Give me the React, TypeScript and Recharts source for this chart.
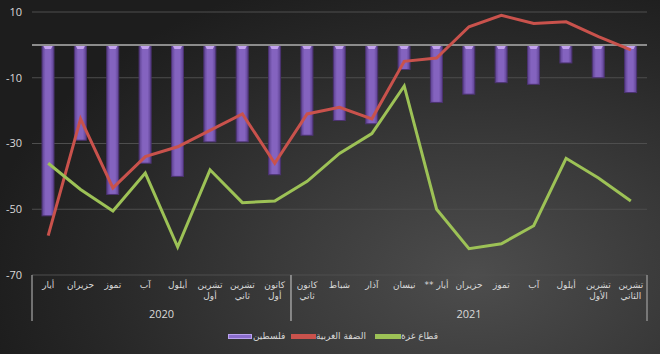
import React from 'react';
import {
  ComposedChart,
  Bar,
  Line,
  XAxis,
  YAxis,
  CartesianGrid,
  ReferenceLine,
  ReferenceArea,
} from 'recharts';

// ---------- data ----------
const monthLabels = [
  'أيار', 'حزيران', 'تموز', 'آب', 'أيلول', 'تشرين\nأول', 'تشرين\nثاني', 'كانون\nأول',
  'كانون\nثاني', 'شباط', 'آذار', 'نيسان', 'أيار **', 'حزيران', 'تموز', 'آب', 'أيلول', 'تشرين\nالأول', 'تشرين\nالثاني',
];
const years = [
  '2020', '2020', '2020', '2020', '2020', '2020', '2020', '2020',
  '2021', '2021', '2021', '2021', '2021', '2021', '2021', '2021', '2021', '2021', '2021',
];
const palestine = [-52, -29, -45.5, -36, -40, -29.5, -29.5, -39.5, -27.5, -23, -24, -7.5, -17.5, -15, -11.5, -12, -5.5, -10, -14.5];
const westBank = [-58, -22.5, -43.5, -34, -31, -26, -21, -36, -21, -19, -22.5, -5, -4, 5.5, 9, 6.5, 7, 2.5, -1.5];
const gaza = [-36, -44, -50.5, -39, -61.5, -38, -48, -47.5, -41.5, -33, -27, -12.5, -50, -62, -60.5, -55, -34.5, -40.5, -47.5];
const yTicks = [-70, -50, -30, -10, 10];
const seriesNames = ['فلسطين', 'الضفة الغربية', 'قطاع غزة'];
const yearGroups = ['2020', '2021'];

const data = monthLabels.map((m, i) => ({
  key: `${i}|${m}`,
  label: m,
  year: years[i],
  palestine: palestine[i],
  westBank: westBank[i],
  gaza: gaza[i],
}));

const TEXT = '#d9d9d9';
const ARABIC_FONT = '"DejaVu Sans", "Noto Sans", sans-serif';

const MonthTick = (props: any) => {
  const { x, payload } = props;
  const row = data.find((d) => d.key === payload.value);
  const lines = row ? row.label.split('\n') : [];
  return (
    <g>
      {lines.map((ln: string, i: number) => (
        <text
          key={i}
          x={x}
          y={288 + i * 11}
          textAnchor="middle"
          direction="rtl"
          fill={TEXT}
          fontSize={9}
          fontFamily={ARABIC_FONT}
        >
          {ln}
        </text>
      ))}
    </g>
  );
};

const YearShape = (year: string) => (props: any) => {
  const { x, y, width, height } = props;
  return (
    <g>
      <line x1={x} x2={x} y1={y} y2={y + height} stroke="#8c8c8c" strokeWidth={1.5} />
      <line x1={x + width} x2={x + width} y1={y} y2={y + height} stroke="#8c8c8c" strokeWidth={1.5} />
      <text
        x={x + width / 2}
        y={318}
        textAnchor="middle"
        fill={TEXT}
        fontSize={11}
        fontFamily='"Open Sans", "Noto Sans", sans-serif'
      >
        {year}
      </text>
    </g>
  );
};

const BarShape = (props: any) => {
  const { x, y, width, height } = props;
  if (width == null || height == null) return null;
  const top = Math.min(y, y + height);
  const h = Math.abs(height);
  return (
    <g>
      <rect x={x} y={top} width={width} height={h} fill="url(#barGrad)" stroke="#4b3270" strokeWidth={1} />
      <polygon
        points={`${x + 1},${top} ${x + width - 1},${top} ${x + width - 3},${top + 4} ${x + 3},${top + 4}`}
        fill="#c4a3f0"
      />
    </g>
  );
};

export default function App() {
  const groupKeys = yearGroups.map((yr) => {
    const rows = data.filter((d) => d.year === yr);
    return { year: yr, first: rows[0].key, last: rows[rows.length - 1].key };
  });

  const swatches = [
    { left: 228, width: 24, color: '#8a6ccc', border: '#b9a2ee', textLeft: 253 },
    { left: 291, width: 25, color: '#c9524c', border: '#c9524c', textLeft: 316 },
    { left: 375, width: 26, color: '#9dc256', border: '#9dc256', textLeft: 401 },
  ];

  return (
    <div
      style={{
        position: 'absolute',
        left: 0,
        top: 0,
        width: 660,
        height: 354,
        background:
          'radial-gradient(ellipse 75% 90% at 72% 78%, #4d4d4d 0%, #3a3a3a 40%, #282828 75%, #1d1d1d 100%)',
        overflow: 'hidden',
      }}
    >
      <ComposedChart
        width={660}
        height={354}
        data={data}
        margin={{ top: 12, right: 13, left: 0, bottom: 33 }}
      >
        <defs>
          <linearGradient id="barGrad" x1="0" y1="0" x2="1" y2="0">
            <stop offset="0%" stopColor="#5c4190" />
            <stop offset="30%" stopColor="#8463bf" />
            <stop offset="70%" stopColor="#8463bf" />
            <stop offset="100%" stopColor="#5c4190" />
          </linearGradient>
        </defs>
        <CartesianGrid vertical={false} stroke="#4e4e4e" strokeWidth={1} />
        <XAxis
          dataKey="key"
          type="category"
          height={46}
          axisLine={false}
          tickLine={false}
          interval={0}
          tick={<MonthTick />}
        />
        <YAxis
          domain={[-70, 10]}
          ticks={yTicks}
          width={32}
          axisLine={false}
          tickLine={false}
          tickMargin={4}
          tick={{ fill: TEXT, fontSize: 11, fontFamily: '"Open Sans", "Noto Sans", sans-serif' }}
        />
        {groupKeys.map((g) => (
          <ReferenceArea
            key={g.year}
            x1={g.first}
            x2={g.last}
            y1={-70}
            y2={-84}
            ifOverflow="visible"
            shape={YearShape(g.year)}
          />
        ))}
        <Bar dataKey="palestine" barSize={12} shape={<BarShape />} isAnimationActive={false} />
        <ReferenceLine y={0} stroke="#8c8c8c" strokeWidth={2} />
        <Line
          dataKey="westBank"
          type="linear"
          stroke="#c9524c"
          strokeWidth={3}
          dot={false}
          activeDot={false}
          isAnimationActive={false}
        />
        <Line
          dataKey="gaza"
          type="linear"
          stroke="#9dc256"
          strokeWidth={3}
          dot={false}
          activeDot={false}
          isAnimationActive={false}
        />
      </ComposedChart>
      {swatches.map((s, i) => (
        <React.Fragment key={i}>
          <div
            style={{
              position: 'absolute',
              left: s.left,
              top: 334,
              width: s.width,
              height: 5,
              boxSizing: 'border-box',
              background: s.color,
              border: `1px solid ${s.border}`,
            }}
          />
          <div
            style={{
              position: 'absolute',
              left: s.textLeft,
              top: 329,
              fontSize: 9,
              lineHeight: '14px',
              color: TEXT,
              fontFamily: ARABIC_FONT,
              direction: 'rtl',
              whiteSpace: 'nowrap',
            }}
          >
            {seriesNames[i]}
          </div>
        </React.Fragment>
      ))}
    </div>
  );
}
